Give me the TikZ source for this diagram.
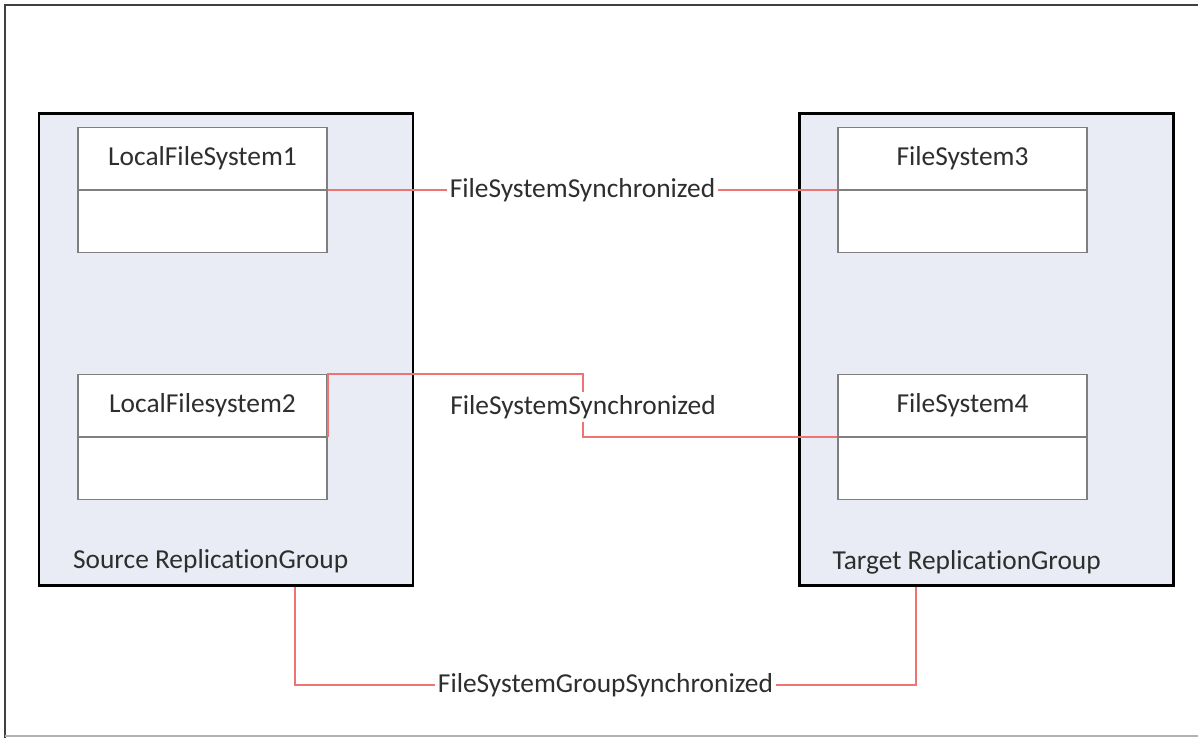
\documentclass[tikz,border=0pt]{standalone}
\usepackage{fontspec}
\setmainfont{Carlito}[Ligatures={NoCommon}]
\usetikzlibrary{calc}
\definecolor{groupfill}{HTML}{E9ECF5}
\definecolor{boxedge}{HTML}{7F7F7F}
\definecolor{linkred}{HTML}{EE7474}
\definecolor{inktext}{HTML}{2E2E2E}
\tikzset{
  txt/.style={font=\fontsize{27.5}{31}\selectfont, text=inktext, inner sep=2pt},
  group/.style={draw=black, line width=2.2bp, fill=groupfill, minimum width=374bp, minimum height=472bp, inner sep=0pt},
  fsbox/.style={draw=boxedge, line width=1.5bp, fill=white, minimum width=249bp, minimum height=125bp, inner sep=0pt},
  link/.style={draw=linkred, line width=1.6bp},
  linklabel/.style={txt, fill=white, inner sep=3pt}
}
\begin{document}
\begin{tikzpicture}[x=1bp,y=-1bp]
\useasboundingbox (0,0) rectangle (1198,738);
\fill[white] (0,0) rectangle (1198,738);
% outer frame (open on the right)
\draw[draw=black!75, line width=2bp] (5,738) -- (5,5) -- (1198,5);
\draw[draw=black!30, line width=1.5bp] (5,736) -- (1198,736);

% replication groups
\node[group] (src) at (226,349.5) {};
\node[group] (tgt) at (986.5,349.5) {};
\node[txt, anchor=west] (srclbl) at ($(src.west)+(33,212)$) {Source ReplicationGroup};
\node[txt, anchor=west] (tgtlbl) at ($(tgt.west)+(32,213)$) {Target ReplicationGroup};

% file systems
\node[fsbox] (fs1) at (202.5,190) {};
\node[fsbox] (fs2) at (202.5,437) {};
\node[fsbox] (fs3) at (962.5,190) {};
\node[fsbox] (fs4) at (962.5,437) {};
\foreach \b/\t in {fs1/LocalFileSystem1, fs2/LocalFilesystem2, fs3/FileSystem3, fs4/FileSystem4} {
  \draw[draw=boxedge, line width=1.5bp] (\b.west) -- (\b.east);
  \node[txt] (\b-name) at ($(\b.north)!0.25!(\b.south)$) {\t};
}

% synchronisation links
\draw[link] (fs1.east) -- (fs3.west)
  node[linklabel, midway] (l1) {FileSystemSynchronized};

\coordinate (m2) at (583,407);
\draw[link] (fs2.east) -- (fs2.north east) -- (m2 |- fs2.north) -- (m2 |- fs4.west) -- (fs4.west);
\node[linklabel] (l2) at (m2) {FileSystemSynchronized};

\coordinate (gs) at (295,685);
\coordinate (gt) at (916,685);
\draw[link] (gs |- src.south) -- (gs) -- (gt) -- (gt |- tgt.south);
\node[linklabel] (l3) at ($(gs)!0.5!(gt)$) {FileSystemGroupSynchronized};
\end{tikzpicture}
\end{document}
